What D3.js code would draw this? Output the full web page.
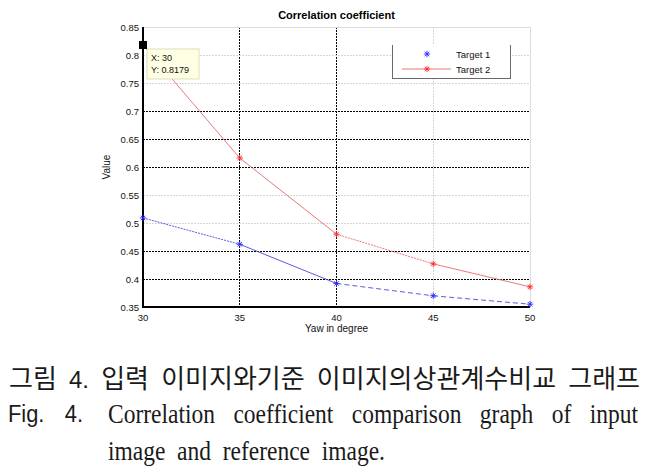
<!DOCTYPE html>
<html>
<head>
<meta charset="utf-8">
<script src="https://cdn.jsdelivr.net/npm/d3@7"></script>
<style>
  body { margin: 0; background: #fff; }
  svg { display: block; }
  .tick-label { font-family: "Liberation Sans", Arial, sans-serif; font-size: 9.5px; fill: #111; }
  .axis-label { font-family: "Liberation Sans", Arial, sans-serif; font-size: 10px; fill: #111; }
  .title { font-family: "Liberation Sans", Arial, sans-serif; font-size: 11px; font-weight: bold; fill: #000; }
  .legend-text { font-family: "Liberation Sans", Arial, sans-serif; font-size: 9.5px; fill: #111; }
  .tip-text { font-family: "Liberation Sans", Arial, sans-serif; font-size: 9px; fill: #111; }
</style>
</head>
<body>
<svg id="chart" width="649" height="467"></svg>
<script>
//data
const yaw = [30, 35, 40, 45, 50]
const target1 = [0.509, 0.462, 0.392, 0.370, 0.355]
const target2 = [0.8179, 0.616, 0.480, 0.427, 0.386]
const seriesNames = ['Target 1', 'Target 2']
const xTicks = [30, 35, 40, 45, 50]
const yTicks = [0.35, 0.4, 0.45, 0.5, 0.55, 0.6, 0.65, 0.7, 0.75, 0.8, 0.85]
//gridlines that came out dark in the original export
const darkXGrid = [35, 40]
const darkYGrid = [0.4, 0.45, 0.6, 0.65, 0.7]
const titleText = 'Correlation coefficient'
const xLabel = 'Yaw in degree'
const yLabel = 'Value'
const captionKo = ['그림', '4.', '입력', '이미지와기준', '이미지의상관계수비교', '그래프']
const captionFig = ['Fig.', '4.']
const captionEn1 = ['Correlation', 'coefficient', 'comparison', 'graph', 'of', 'input']
const captionEn2 = ['image', 'and', 'reference', 'image.']

//consts
const
  pLeft = 143,
  pRight = 530,
  pTop = 27,
  pBottom = 307,
  star = 3.2,
  blue = '#2a2aff',
  red = '#ff2a2a'

const svg = d3.select('#chart')

//scales
const x = d3.scaleLinear().domain([30, 50]).range([pLeft, pRight])
const y = d3.scaleLinear().domain([0.35, 0.85]).range([pBottom, pTop])

//gridlines
svg.append('g')
  .selectAll('line')
  .data(xTicks.slice(1, -1))
  .join('line')
  .attr('x1', d => x(d)).attr('x2', d => x(d))
  .attr('y1', pTop).attr('y2', pBottom)
  .attr('stroke', d => darkXGrid.includes(d) ? '#000' : '#d6d6d6')
  .attr('stroke-width', 1)
  .attr('stroke-dasharray', '1.5,1.5')
  .attr('shape-rendering', 'crispEdges')

svg.append('g')
  .selectAll('line')
  .data(yTicks.slice(1, -1))
  .join('line')
  .attr('x1', pLeft).attr('x2', pRight)
  .attr('y1', d => y(d)).attr('y2', d => y(d))
  .attr('stroke', d => darkYGrid.includes(d) ? '#000' : '#d6d6d6')
  .attr('stroke-width', 1)
  .attr('stroke-dasharray', '1.5,1.5')
  .attr('shape-rendering', 'crispEdges')

//box: light top/right, black left/bottom
svg.append('path')
  .attr('d', `M${pLeft},${pTop}H${pRight}V${pBottom}`)
  .attr('fill', 'none')
  .attr('stroke', '#dcdcdc')
  .attr('shape-rendering', 'crispEdges')
svg.append('path')
  .attr('d', `M${pLeft},${pTop}V${pBottom}H${pRight}`)
  .attr('fill', 'none')
  .attr('stroke', '#000')
  .attr('stroke-width', 1.2)
  .attr('shape-rendering', 'crispEdges')

//tick labels
svg.append('g')
  .selectAll('text')
  .data(yTicks)
  .join('text')
  .attr('class', 'tick-label')
  .attr('x', pLeft - 4)
  .attr('y', d => y(d) + 3.5)
  .attr('text-anchor', 'end')
  .text(d => d)
svg.append('g')
  .selectAll('text')
  .data(xTicks)
  .join('text')
  .attr('class', 'tick-label')
  .attr('x', d => x(d))
  .attr('y', pBottom + 14)
  .attr('text-anchor', 'middle')
  .text(d => d)

//title and axis labels
svg.append('text')
  .attr('class', 'title')
  .attr('x', (pLeft + pRight) / 2)
  .attr('y', 19)
  .attr('text-anchor', 'middle')
  .text(titleText)
svg.append('text')
  .attr('class', 'axis-label')
  .attr('x', (pLeft + pRight) / 2)
  .attr('y', pBottom + 25)
  .attr('text-anchor', 'middle')
  .text(xLabel)
svg.append('text')
  .attr('class', 'axis-label')
  .attr('transform', `translate(${pLeft - 33},${(pTop + pBottom) / 2}) rotate(-90)`)
  .attr('text-anchor', 'middle')
  .text(yLabel)

//asterisk marker
function asterisk(g, cx, cy, color) {
  let r = star
  g.append('path')
    .attr('d', `M${cx - r},${cy}H${cx + r}M${cx},${cy - r}V${cy + r}` +
      `M${cx - r * 0.7},${cy - r * 0.7}L${cx + r * 0.7},${cy + r * 0.7}` +
      `M${cx - r * 0.7},${cy + r * 0.7}L${cx + r * 0.7},${cy - r * 0.7}`)
    .attr('stroke', color)
    .attr('stroke-width', 0.9)
    .attr('fill', 'none')
}

//series
const series = [
  {name: seriesNames[0], values: target1, color: blue, line: '#4a4ad8', dash: ['2,1', null, '5,3', '5,3']},
  {name: seriesNames[1], values: target2, color: red, line: '#e46a6a', dash: [null, null, '2,1', null]}
]
const line = d3.line().x(d => x(d[0])).y(d => y(d[1]))

series.forEach(s => {
  let pts = yaw.map((v, i) => [v, s.values[i]])
  let g = svg.append('g')
  //render line segments
  d3.pairs(pts).forEach((p, i) => {
    g.append('path')
      .attr('d', line(p))
      .attr('fill', 'none')
      .attr('stroke', s.line)
      .attr('stroke-width', 0.9)
      .attr('stroke-dasharray', s.dash[i])
  })
  //render markers
  pts.forEach(p => asterisk(g, x(p[0]), y(p[1]), s.color))
})

//legend
{
  let lx = 392, ly = 45, lw = 118, lh = 33
  let lg = svg.append('g')
  lg.append('rect')
    .attr('x', lx).attr('y', ly).attr('width', lw).attr('height', lh)
    .attr('fill', '#fff')
  lg.append('path')
    .attr('d', `M${lx},${ly}V${ly + lh}H${lx + lw}V${ly}`)
    .attr('fill', 'none')
    .attr('stroke', '#6a6a6a')
    .attr('shape-rendering', 'crispEdges')
  //entry 1 (marker only)
  asterisk(lg, 427, 54, blue)
  //entry 2 (line + marker)
  lg.append('line')
    .attr('x1', 402).attr('x2', 451).attr('y1', 69).attr('y2', 69)
    .attr('stroke', '#e46a6a').attr('stroke-width', 0.9)
  asterisk(lg, 427, 69, red)
  lg.selectAll('text.legend-text')
    .data(series)
    .join('text')
    .attr('class', 'legend-text')
    .attr('x', 456)
    .attr('y', (d, i) => 57.5 + i * 15)
    .text(d => d.name)
}

//data tip
{
  let tx = x(yaw[0]), ty = y(target2[0])
  let tip = svg.append('g')
  tip.append('rect')
    .attr('x', tx + 4).attr('y', ty + 4).attr('width', 52).attr('height', 30)
    .attr('fill', '#ffffe4')
    .attr('stroke', '#deddb8')
  tip.append('rect')
    .attr('x', tx - 4).attr('y', ty - 4).attr('width', 8).attr('height', 8)
    .attr('fill', '#000')
  tip.append('text')
    .attr('class', 'tip-text')
    .attr('x', tx + 8).attr('y', ty + 16)
    .text('X: ' + yaw[0])
  tip.append('text')
    .attr('class', 'tip-text')
    .attr('x', tx + 8).attr('y', ty + 28)
    .text('Y: ' + target2[0])
}

//caption: spreads words between x0 and x1
function justify(words, x0, x1, baseline, fontOf, sizeOf, squeeze) {
  let g = svg.append('g')
  let nodes = words.map((w, i) => g.append('text')
    .attr('y', baseline)
    .attr('font-family', fontOf(i))
    .attr('font-size', sizeOf(i))
    .attr('fill', '#1a1a1a')
    .text(w))
  let widths = nodes.map((n, i) => n.node().getComputedTextLength() * squeeze(i))
  let gap = (x1 - x0 - d3.sum(widths)) / (words.length - 1)
  let pos = x0
  nodes.forEach((n, i) => {
    n.attr('x', pos)
      .attr('textLength', widths[i])
      .attr('lengthAdjust', 'spacingAndGlyphs')
    pos += widths[i] + gap
  })
}

const sans = '"Liberation Sans", Arial, sans-serif'
const serif = '"Liberation Serif", "Times New Roman", serif'
const ko = '"Noto Sans CJK KR", sans-serif'

justify(captionKo, 9, 640, 388,
  i => i == 1 ? sans : ko, i => i == 1 ? 24 : 26, i => 1)
justify(captionFig, 8, 83, 422, i => sans, i => 23, i => 0.95)
justify(captionEn1, 108, 638, 423, i => serif, i => 27, i => 0.87)
justify(captionEn2, 108, 385, 460, i => serif, i => 27, i => 0.87)
</script>
</body>
</html>
